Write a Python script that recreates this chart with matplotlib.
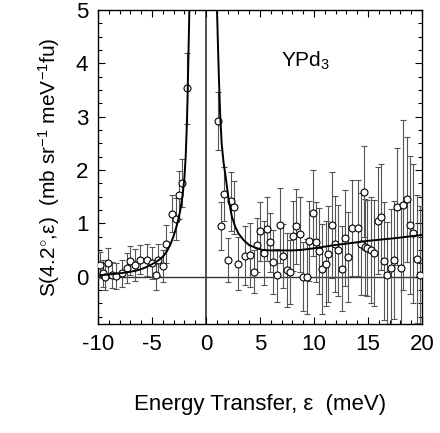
import matplotlib
matplotlib.use("Agg")
import matplotlib.pyplot as plt
from matplotlib.ticker import MultipleLocator

plt.rcParams['font.family'] = ['Liberation Sans', 'DejaVu Sans']
plt.rcParams['mathtext.fontset'] = 'custom'
plt.rcParams['mathtext.rm'] = 'Liberation Sans'
plt.rcParams['mathtext.it'] = 'Liberation Sans:italic'
plt.rcParams['axes.unicode_minus'] = False

# data: energy loss side (negative) and energy gain side
x_neg = [-9.8, -9.5, -9.35, -9.1, -8.7, -8.3, -7.8, -7.3, -7.0, -6.6, -6.1,
         -5.5, -5.0, -4.6, -4.4, -4.0, -3.7, -3.16, -2.8, -2.5, -2.2, -1.77]
y_neg = [0.22, 0.06, 0.00, 0.25, 0.03, 0.01, 0.06, 0.16, 0.30, 0.22, 0.32,
         0.31, 0.25, 0.03, 0.31, 0.20, 0.61, 1.18, 1.08, 1.53, 1.75, 3.53]
e_neg = [0.25, 0.25, 0.25, 0.28, 0.25, 0.25, 0.25, 0.28, 0.28, 0.30, 0.28,
         0.30, 0.30, 0.28, 0.30, 0.30, 0.35, 0.35, 0.40, 0.45, 0.45, 0.67]

x_pos = [1.08, 1.42, 1.66, 2.03, 2.33, 2.63, 2.93, 3.59, 4.11, 4.47, 4.73,
         5.04, 5.35, 5.66, 5.97, 6.25, 6.56, 6.86, 7.13, 7.52, 7.76, 8.06,
         8.37, 8.67, 9.00, 9.31, 9.56, 9.87, 10.15, 10.46, 10.77, 11.08,
         11.33, 11.63, 11.94, 12.26, 12.56, 12.87, 13.18, 13.48, 14.08,
         14.33, 14.63, 14.75, 14.95, 15.26, 15.56, 15.88, 16.18, 16.49,
         16.80, 17.11, 17.42, 17.64, 18.04, 18.26, 18.57, 18.88, 19.19,
         19.50, 19.80]
y_pos = [2.92, 0.94, 1.55, 0.31, 1.41, 1.30, 0.24, 0.39, 0.41, 0.09, 0.59,
         0.85, 0.45, 0.89, 0.64, 0.27, 0.02, 0.96, 0.39, 0.12, 0.08, 0.76,
         0.94, 0.79, 0.00, 0.00, 0.67, 1.19, 0.65, 0.48, 0.14, 0.24,
         0.43, 0.97, 0.61, 0.49, 0.15, 0.73, 0.37, 0.91, 0.91,
         0.61, 1.59, 0.56, 0.53, 0.50, 0.44, 1.05, 1.12, 0.29,
         0.03, 0.17, 0.31, 1.31, 0.17, 1.34, 1.45, 0.97, 0.81,
         0.33, 0.03]
e_pos = [0.55, 0.45, 0.50, 0.42, 0.55, 0.50, 0.50, 0.55, 0.60, 0.40, 0.50,
         0.55, 0.60, 0.60, 0.55, 0.60, 0.50, 0.70, 0.60, 0.70, 0.60, 0.65,
         0.70, 0.70, 0.65, 0.70, 0.75, 0.80, 0.75, 0.80, 0.85, 0.80,
         0.90, 1.00, 0.90, 0.85, 0.80, 0.90, 0.85, 0.90, 0.90,
         0.95, 0.85, 0.90, 0.90, 1.00, 1.00, 1.00, 1.00, 1.10,
         1.00, 1.10, 1.10, 1.10, 1.20, 1.60, 1.17, 1.30, 1.30,
         1.20, 1.30]

# fitted curve, read point by point
fit_x_neg = [-10, -9, -8, -7, -6.5, -6, -5.5, -5, -4.5, -4, -3.6, -3.3, -3.0,
             -2.7, -2.4, -2.15, -2.0, -1.88, -1.78, -1.7, -1.63, -1.55, -1.5]
fit_y_neg = [0.02, 0.04, 0.06, 0.09, 0.11, 0.14, 0.18, 0.23, 0.29, 0.37, 0.48,
             0.60, 0.76, 0.96, 1.22, 1.55, 1.85, 2.25, 2.8, 3.4, 4.1, 4.9, 5.5]
fit_x_pos = [0.95, 1.02, 1.1, 1.2, 1.32, 1.45, 1.62, 1.8, 2.1, 2.4, 2.7, 3.0,
             3.5, 4.0, 4.6, 5.2, 6.0, 7.0, 8.0, 8.8, 10.0, 11.9, 13.5, 15.0,
             17.5, 20.0]
fit_y_pos = [5.5, 5.0, 4.4, 3.7, 3.0, 2.5, 2.15, 1.9, 1.44, 1.12, 0.94, 0.81,
             0.68, 0.59, 0.54, 0.50, 0.49, 0.49, 0.49, 0.50, 0.53, 0.59, 0.63,
             0.67, 0.72, 0.78]

fig = plt.figure(figsize=(4.4, 4.33), dpi=100)
ax = fig.add_axes([0.2227, 0.2517, 0.7364, 0.7252])

ax.axhline(0, color='#333333', lw=1.0, zorder=1)
ax.axvline(0, color='#333333', lw=1.2, zorder=1)

for xs, ys, es in [(x_neg, y_neg, e_neg), (x_pos, y_pos, e_pos)]:
    ax.errorbar(xs, ys, yerr=es, fmt='o', ms=5, mfc='white', mec='black',
                mew=0.8, ecolor='#555555', elinewidth=0.8, capsize=2.5,
                capthick=0.8, zorder=3)

ax.plot(fit_x_neg, fit_y_neg, color='black', lw=1.4, zorder=4)
ax.plot(fit_x_pos, fit_y_pos, color='black', lw=1.4, zorder=4)

ax.set_xlim(-10, 20)
ax.set_ylim(-0.89, 5)
ax.xaxis.set_major_locator(MultipleLocator(5))
ax.xaxis.set_minor_locator(MultipleLocator(1))
ax.yaxis.set_major_locator(MultipleLocator(1))
ax.yaxis.set_minor_locator(MultipleLocator(0.25))
ax.tick_params(which='both', direction='in', top=True, right=True, width=0.8)
ax.tick_params(which='major', length=5, labelsize=16, pad=7)
ax.tick_params(which='minor', length=3)
for s in ax.spines.values():
    s.set_linewidth(1.0)

ax.text(6.9, 4.05, 'YPd$_3$', fontsize=15, va='center', ha='left')

ax.set_xlabel('Energy Transfer, ε  (meV)', fontsize=16, labelpad=28)
ax.set_ylabel('S(4.2$^{\\circ}$,ε)  (mb sr$^{-1}$ meV$^{-1}$fu)', fontsize=15,
              labelpad=10)

fig.savefig('out.png', dpi=100)
